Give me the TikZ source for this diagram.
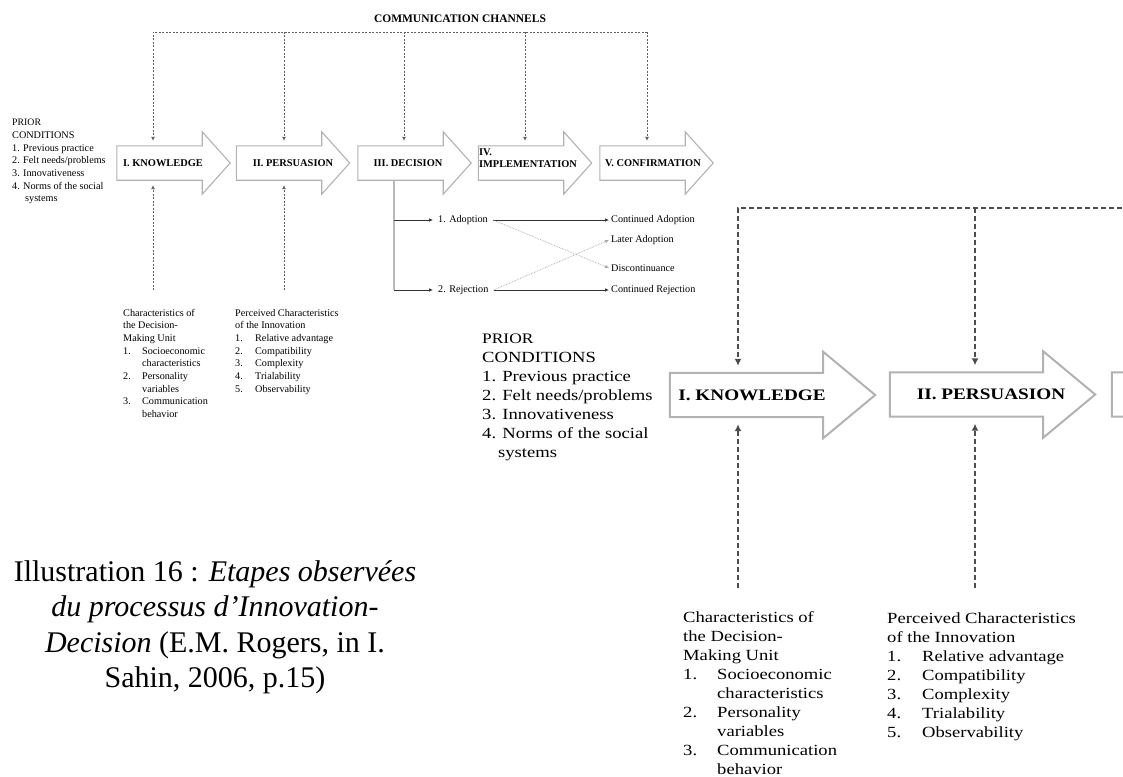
\documentclass[tikz,border=0pt]{standalone}
\usepackage{fontspec}
\setmainfont{Liberation Serif}
\newfontfamily\widefont[FakeStretch=1.2]{Liberation Serif}
\usetikzlibrary{arrows.meta,calc}

\begin{document}
\begin{tikzpicture}[x=1pt, y=-1pt,
    shaft/.style={rectangle, inner sep=0pt, minimum width=85pt, minimum height=34pt},
    bigshaft/.style={rectangle, inner sep=0pt, minimum width=153pt, minimum height=44pt},
    rim/.style={draw=gray!60, line width=1.1pt},
    bigrim/.style={draw=gray!60, line width=2pt},
    stagelbl/.style={font=\fontsize{10.4}{12}\selectfont\bfseries, inner sep=0pt},
    bigstagelbl/.style={font=\widefont\fontsize{16}{18}\selectfont\bfseries, inner sep=0pt},
    chan/.style={draw=gray!75!black, line width=0.7pt, dash pattern=on 2pt off 1.5pt, -{Latex[length=4pt,width=4pt]}, shorten >=5pt},
    bigchan/.style={draw=black!70, line width=1.8pt, dash pattern=on 5pt off 3pt, -{Latex[length=7pt,width=7pt]}, shorten >=7pt},
    smalltxt/.style={font=\fontsize{10.2}{12.7}\selectfont, inner sep=0pt, align=left},
    bigtxt/.style={font=\widefont\fontsize{15.5}{19}\selectfont, inner sep=0pt, align=left},
    branch/.style={draw=black!80, line width=0.7pt, -{Latex[length=4pt,width=3.5pt]}},
    crossing/.style={branch, draw=gray!70, densely dotted},
  ]
  \useasboundingbox (0,0) rectangle (1123,776);
  \clip (0,0) rectangle (1123,776);

  % small diagram
  \node[font=\fontsize{11.5}{13}\selectfont\bfseries] (cc) at (460,19) {COMMUNICATION CHANNELS};

  \node[shaft, label={[stagelbl,xshift=3.5pt]center:I. KNOWLEDGE}] (kn) at (159.5,163) {};
  \node[shaft, label={[stagelbl,xshift=14pt]center:II. PERSUASION}] (pe) at (279,163) {};
  \node[shaft, label={[stagelbl,xshift=7.5pt]center:III. DECISION}] (dc) at (400.5,163) {};
  \node[shaft, label={[stagelbl,align=left,xshift=7pt,yshift=4.5pt]center:IV.\\IMPLEMENTATION}] (im) at (521,163) {};
  \node[shaft, label={[stagelbl,xshift=10.5pt]center:V. CONFIRMATION}] (co) at (642.5,163) {};

  \draw[rim] (kn.south west) -- (kn.north west) -- (kn.north east) -- ++(0,-14) -- ($(kn.east)+(28,0)$) -- ($(kn.south east)+(0,14)$) -- (kn.south east) -- cycle;
  \draw[rim] (pe.south west) -- (pe.north west) -- (pe.north east) -- ++(0,-14) -- ($(pe.east)+(28,0)$) -- ($(pe.south east)+(0,14)$) -- (pe.south east) -- cycle;
  \draw[rim] (dc.south west) -- (dc.north west) -- (dc.north east) -- ++(0,-14) -- ($(dc.east)+(28,0)$) -- ($(dc.south east)+(0,14)$) -- (dc.south east) -- cycle;
  \draw[rim] (im.south west) -- (im.north west) -- (im.north east) -- ++(0,-14) -- ($(im.east)+(28,0)$) -- ($(im.south east)+(0,14)$) -- (im.south east) -- cycle;
  \draw[rim] (co.south west) -- (co.north west) -- (co.north east) -- ++(0,-14) -- ($(co.east)+(28,0)$) -- ($(co.south east)+(0,14)$) -- (co.south east) -- cycle;

  \coordinate (c1) at (153,32);
  \coordinate (c2) at (284,32);
  \coordinate (c3) at (404,32);
  \coordinate (c4) at (525,32);
  \coordinate (c5) at (647,32);
  \draw[chan] (c5) -- (c1) -- (c1 |- kn.north);
  \draw[chan] (c2) -- (c2 |- pe.north);
  \draw[chan] (c3) -- (c3 |- dc.north);
  \draw[chan] (c4) -- (c4 |- im.north);
  \draw[chan] (c5) -- (c5 |- co.north);

  \coordinate (k0) at (153,290);
  \coordinate (p0) at (284,290);
  \draw[chan] (k0) -- (k0 |- kn.south);
  \draw[chan] (p0) -- (p0 |- pe.south);

  \node[smalltxt, anchor=north west] (prior) at (12,119) {\fontsize{9.8}{12.8}\selectfont PRIOR\\CONDITIONS\\1. Previous practice\\2. Felt needs/problems\\3. Innovativeness\\4. Norms of the social\\\hspace*{13pt}systems};

  \node[smalltxt, anchor=north west] (dmu) at (123,307) {\begin{tabular}{@{}p{19pt}@{}l@{}}
    \multicolumn{2}{@{}l@{}}{Characteristics of}\\
    \multicolumn{2}{@{}l@{}}{the Decision-}\\
    \multicolumn{2}{@{}l@{}}{Making Unit}\\
    1. & Socioeconomic\\
       & characteristics\\
    2. & Personality\\
       & variables\\
    3. & Communication\\
       & behavior
  \end{tabular}};
  \node[smalltxt, anchor=north west] (pci) at (235,307) {\begin{tabular}{@{}p{20pt}@{}l@{}}
    \multicolumn{2}{@{}l@{}}{Perceived Characteristics}\\
    \multicolumn{2}{@{}l@{}}{of the Innovation}\\
    1. & Relative advantage\\
    2. & Compatibility\\
    3. & Complexity\\
    4. & Trialability\\
    5. & Observability
  \end{tabular}};

  % decision outcomes
  \coordinate (ja) at (394,220);
  \coordinate (jr) at (394,290);
  \draw[draw=gray!55, line width=1.6pt] (dc.south -| ja) -- (jr);
  \node[smalltxt, anchor=west, inner xsep=5pt] (adopt) at (433,220) {1. Adoption};
  \node[smalltxt, anchor=west, inner xsep=5pt] (reject) at (433,290) {2. Rejection};
  \node[smalltxt, anchor=west, inner xsep=2pt] (contad) at (609,220) {Continued Adoption};
  \node[smalltxt, anchor=west, inner xsep=2pt] (later) at (609,240) {Later Adoption};
  \node[smalltxt, anchor=west, inner xsep=2pt] (disc) at (609,268) {Discontinuance};
  \node[smalltxt, anchor=west, inner xsep=2pt] (contrej) at (609,290) {Continued Rejection};
  \draw[branch] (ja) -- (adopt.west);
  \draw[branch] (jr) -- (reject.west);
  \draw[branch] (adopt) -- (contad);
  \draw[branch] (reject) -- (contrej);
  \draw[crossing] (adopt.east) -- (disc.west);
  \draw[crossing] (reject.east) -- (later.west);

  % enlarged part
  \node[bigshaft, label={[bigstagelbl,xshift=5.5pt]center:I. KNOWLEDGE}] (bkn) at (746.5,395) {};
  \node[bigshaft, label={[bigstagelbl,xshift=24.5pt]center:II. PERSUASION}] (bpe) at (966.5,394.5) {};
  \node[bigshaft] (bdc) at (1188.5,394.5) {};
  \draw[bigrim] (bkn.south west) -- (bkn.north west) -- (bkn.north east) -- ++(0,-21) -- ($(bkn.east)+(52,0)$) -- ($(bkn.south east)+(0,21)$) -- (bkn.south east) -- cycle;
  \draw[bigrim] (bpe.south west) -- (bpe.north west) -- (bpe.north east) -- ++(0,-21) -- ($(bpe.east)+(52,0)$) -- ($(bpe.south east)+(0,21)$) -- (bpe.south east) -- cycle;
  \draw[bigrim] (bdc.south west) -- (bdc.north west) -- (bdc.north east) -- ++(0,-21) -- ($(bdc.east)+(52,0)$) -- ($(bdc.south east)+(0,21)$) -- (bdc.south east) -- cycle;

  \coordinate (b1) at (738,208);
  \coordinate (b2) at (975,208);
  \coordinate (b3) at (1130,208);
  \draw[bigchan] (b3) -- (b1) -- (b1 |- bkn.north);
  \draw[bigchan] (b2) -- (b2 |- bpe.north);
  \coordinate (bk0) at (738,588);
  \coordinate (bp0) at (975,588);
  \draw[bigchan] (bk0) -- (bk0 |- bkn.south);
  \draw[bigchan] (bp0) -- (bp0 |- bpe.south);

  \node[bigtxt, anchor=north west] (bprior) at (482,334) {\fontsize{14.5}{19}\selectfont PRIOR\\CONDITIONS\\1. Previous practice\\2. Felt needs/problems\\3. Innovativeness\\4. Norms of the social\\\hspace*{16pt}systems};

  \node[bigtxt, anchor=north west] (bdmu) at (683,609) {\begin{tabular}{@{}p{34pt}@{}l@{}}
    \multicolumn{2}{@{}l@{}}{Characteristics of}\\
    \multicolumn{2}{@{}l@{}}{the Decision-}\\
    \multicolumn{2}{@{}l@{}}{Making Unit}\\
    1. & Socioeconomic\\
       & characteristics\\
    2. & Personality\\
       & variables\\
    3. & Communication\\
       & behavior
  \end{tabular}};
  \node[bigtxt, anchor=north west] (bpci) at (887,610) {\begin{tabular}{@{}p{35pt}@{}l@{}}
    \multicolumn{2}{@{}l@{}}{Perceived Characteristics}\\
    \multicolumn{2}{@{}l@{}}{of the Innovation}\\
    1. & Relative advantage\\
    2. & Compatibility\\
    3. & Complexity\\
    4. & Trialability\\
    5. & Observability
  \end{tabular}};

  % caption
  \node[font=\fontsize{30}{35.5}\selectfont, align=center, inner sep=0pt, anchor=north] (cap) at (215,560) {Illustration 16 : \textit{Etapes observées}\\\textit{du processus d’Innovation-}\\\textit{Decision} (E.M. Rogers, in I.\\Sahin, 2006, p.15)};
\end{tikzpicture}
\end{document}
